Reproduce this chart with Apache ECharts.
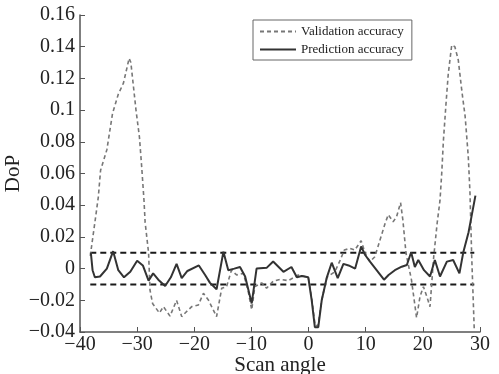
<!DOCTYPE html>
<html>
<head>
<meta charset="utf-8">
<script src="https://cdn.jsdelivr.net/npm/echarts@6/dist/echarts.min.js"></script>
<style>
  html, body { margin: 0; padding: 0; background: #fff; }
  #chart { width: 499px; height: 374px; }
</style>
</head>
<body>
<div id="chart"></div>
<script>
// scan angles and DoP values
const predX = [-38.1, -37.8, -37.4, -36.5, -35.3, -34.2, -33.3, -32.3, -31.2, -30.0, -29.0, -28.0, -27.2, -26.3, -25.1, -24.1, -23.1, -22.2, -21.2, -19.2, -18.1, -17.25, -16.1, -14.9, -14.05, -13.0, -12.0, -11.1, -9.95, -9.1, -7.3, -6.2, -4.4, -3.0, -2.05, -1.2, -0.05, 0.55, 1.1, 1.7, 2.3, 3.2, 4.05, 5.1, 6.1, 7.0, 8.15, 9.2, 9.9, 10.75, 13.2, 14.0, 15.1, 16.3, 17.2, 17.95, 18.6, 19.2, 20.2, 21.25, 22.1, 23.0, 24.2, 25.3, 26.4, 27.1, 28.0, 29.2];
const predY = [0.010, -0.001, -0.0055, -0.005, 0.000, 0.011, -0.001, -0.0055, -0.002, 0.005, 0.002, -0.0076, -0.003, -0.007, -0.011, -0.0055, 0.003, -0.006, -0.0015, 0.002, -0.004, -0.009, -0.013, 0.0107, -0.001, 0.000, 0.001, -0.005, -0.022, 0.000, 0.0006, 0.0045, -0.002, 0.001, -0.0055, -0.0047, -0.0055, -0.020, -0.037, -0.037, -0.020, -0.0055, 0.0037, -0.006, 0.003, 0.002, 0.000, 0.014, 0.0086, 0.0044, -0.007, -0.004, -0.001, 0.0012, 0.0023, 0.0103, 0.001, 0.0054, -0.001, -0.005, 0.0054, -0.005, 0.0044, 0.0054, -0.003, 0.0107, 0.023, 0.046];

const valX = [-38.2, -37.9, -37.4, -36.8, -36.4, -35.3, -34.3, -33.3, -32.4, -31.4, -31.1, -30.2, -29.6, -29.2, -28.8, -28.6, -28.0, -27.75, -27.3, -26.1, -25.4, -24.25, -23.1, -22.2, -21.6, -20.45, -19.3, -18.4, -17.5, -16.1, -15.2, -14.35, -13.5, -12.6, -11.4, -10.55, -9.95, -9.4, -8.2, -7.35, -6.2, -5.0, -3.55, -1.8, -0.05, 0.6, 1.15, 1.65, 2.3, 3.2, 4.6, 5.5, 6.25, 7.25, 8.1, 9.2, 9.9, 10.75, 11.6, 12.5, 13.4, 13.95, 14.8, 15.4, 16.1, 16.5, 17.05, 18.0, 18.9, 19.5, 20.1, 20.7, 21.25, 21.9, 22.5, 23.0, 23.3, 23.6, 24.05, 24.45, 25.05, 25.6, 26.2, 26.8, 27.4, 27.95, 28.25, 28.55, 29.0];
const valY = [0.008, 0.016, 0.029, 0.045, 0.062, 0.075, 0.098, 0.110, 0.117, 0.1327, 0.130, 0.100, 0.083, 0.064, 0.043, 0.029, 0.010, -0.0135, -0.022, -0.028, -0.024, -0.030, -0.020, -0.0303, -0.028, -0.024, -0.023, -0.0156, -0.020, -0.0303, -0.0124, -0.0114, -0.001, -0.004, -0.003, -0.0146, -0.026, -0.0114, -0.009, -0.0124, -0.008, -0.0068, -0.0076, -0.004, -0.0055, -0.020, -0.036, -0.036, -0.020, -0.0055, -0.002, 0.005, 0.0117, 0.0128, 0.0117, 0.0176, 0.0097, 0.0044, 0.0075, 0.018, 0.0286, 0.034, 0.0296, 0.0327, 0.0416, 0.0307, 0.0097, -0.007, -0.031, -0.0177, -0.0114, -0.0177, -0.024, 0.0075, 0.0286, 0.043, 0.060, 0.081, 0.104, 0.123, 0.141, 0.140, 0.1316, 0.1127, 0.096, 0.0706, 0.0475, 0.0075, -0.039];

const limitX = [-38.2, 29.0];
const limitLevels = [0.01, -0.01];

const xTicks = { min: -40, max: 30, interval: 10 };
const yTicks = { min: -0.04, max: 0.16, interval: 0.02 };

const zip = (xs, ys) => xs.map((x, i) => [x, ys[i]]);
const fmt = v => String(+v.toFixed(2)).replace('-', '\u2212');
const serif = 'Liberation Serif';

const chart = echarts.init(document.getElementById('chart'));

const limitSeries = limitLevels.map(level => ({
  type: 'line',
  data: limitX.map(x => [x, level]),
  symbol: 'none',
  silent: true,
  lineStyle: { color: '#1a1a1a', width: 2, type: [6, 4] },
  z: 3,
}));

chart.setOption({
  animation: false,
  grid: { left: 80, right: 19, top: 15, bottom: 42, outerBoundsMode: 'none' },
  legend: {
    data: ['Validation accuracy', 'Prediction accuracy'],
    orient: 'vertical',
    left: 253,
    top: 20,
    itemWidth: 36,
    itemHeight: 10,
    itemGap: 5,
    itemTextGap: 2,
    padding: [5, 8, 4, 6],
    borderColor: '#666',
    borderWidth: 1,
    itemStyle: { opacity: 0 },
    textStyle: { fontFamily: serif, fontSize: 13, color: '#222' },
  },
  xAxis: {
    type: 'value',
    ...xTicks,
    name: 'Scan angle',
    nameLocation: 'middle',
    nameGap: 23,
    nameMoveOverlap: false,
    nameTextStyle: { fontFamily: serif, fontSize: 21, color: '#222' },
    axisLine: { onZero: false, lineStyle: { color: '#555', width: 1.5 } },
    axisTick: { inside: true, length: 5, lineStyle: { color: '#555' } },
    axisLabel: { fontFamily: serif, fontSize: 20, color: '#222', margin: 3, formatter: fmt },
    splitLine: { show: false },
  },
  yAxis: {
    type: 'value',
    ...yTicks,
    name: 'DoP',
    nameLocation: 'middle',
    nameGap: 56,
    nameMoveOverlap: false,
    nameTextStyle: { fontFamily: serif, fontSize: 21, color: '#222' },
    axisLine: { show: true, onZero: false, lineStyle: { color: '#555', width: 1.5 } },
    axisTick: { show: true, inside: true, length: 5, lineStyle: { color: '#555' } },
    axisLabel: { fontFamily: serif, fontSize: 20, color: '#222', margin: 5, formatter: fmt },
    splitLine: { show: false },
  },
  series: [
    ...limitSeries,
    {
      name: 'Validation accuracy',
      type: 'line',
      data: zip(valX, valY),
      symbol: 'none',
      lineStyle: { color: '#777', width: 1.6, type: [4, 3] },
      itemStyle: { color: '#777' },
      z: 4,
    },
    {
      name: 'Prediction accuracy',
      type: 'line',
      data: zip(predX, predY),
      symbol: 'none',
      lineStyle: { color: '#333', width: 2 },
      itemStyle: { color: '#333' },
      z: 5,
    },
  ],
});
</script>
</body>
</html>
